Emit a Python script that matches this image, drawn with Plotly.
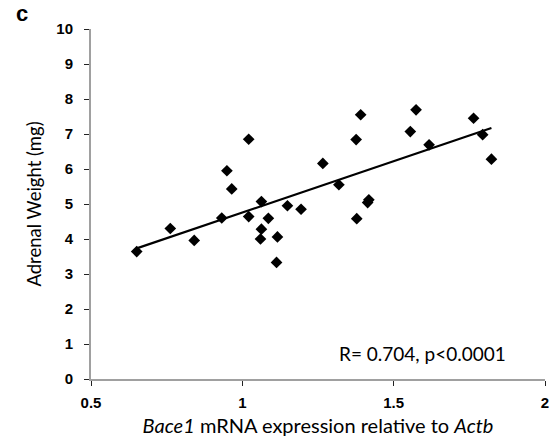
import numpy as np
import plotly.graph_objects as go

bace1 = [0.651, 0.762, 0.841, 0.932, 0.949, 0.965, 1.021, 1.021, 1.063, 1.063,
         1.060, 1.086, 1.113, 1.116, 1.149, 1.194, 1.266, 1.319, 1.376, 1.391,
         1.378, 1.414, 1.418, 1.555, 1.574, 1.617, 1.764, 1.794, 1.823]
weight = [3.64, 4.30, 3.96, 4.60, 5.95, 5.43, 6.85, 4.64, 5.07, 4.28,
          4.00, 4.59, 3.33, 4.06, 4.95, 4.85, 6.16, 5.55, 6.84, 7.55,
          4.58, 5.04, 5.12, 7.07, 7.69, 6.69, 7.45, 6.98, 6.28]

x_ticks = [0.5, 1, 1.5, 2]
x_ticklabels = ["0.5", "1", "1.5", "2"]
y_ticks = list(range(0, 11))
y_ticklabels = [str(v) for v in y_ticks]

slope, intercept = np.polyfit(bace1, weight, 1)
line_x = [min(bace1), max(bace1)]
line_y = [slope * v + intercept for v in line_x]

fig = go.Figure()
fig.add_trace(go.Scatter(x=line_x, y=line_y, mode="lines",
                         line=dict(color="black", width=2.2), hoverinfo="skip"))
fig.add_trace(go.Scatter(x=bace1, y=weight, mode="markers",
                         marker=dict(symbol="diamond", size=9, color="black")))

font_family = "Lato, 'Open Sans', sans-serif"
tick_family = "'Liberation Sans', Arial, sans-serif"
fig.update_layout(
    width=555, height=442,
    margin=dict(l=91, r=6, t=29, b=63),
    plot_bgcolor="white", paper_bgcolor="white",
    showlegend=False,
    font=dict(family=font_family, color="black"),
    xaxis=dict(range=[0.5, 2], tickvals=x_ticks,
               ticktext=["<b>%s</b>" % t for t in x_ticklabels],
               showgrid=False, zeroline=False, showline=True,
               linecolor="#a0a0a0", linewidth=2,
               ticks="outside", ticklen=5, tickcolor="#222", tickwidth=1,
               ticklabelstandoff=4,
               tickfont=dict(size=15, family=tick_family),
               title=dict(text="<i>Bace1</i> mRNA expression relative to <i>Actb</i>",
                          font=dict(size=20), standoff=9)),
    yaxis=dict(range=[0, 10], tickvals=y_ticks,
               ticktext=["<b>%s</b>" % t for t in y_ticklabels],
               showgrid=False, zeroline=False, showline=True,
               linecolor="#a0a0a0", linewidth=2,
               ticks="outside", ticklen=5, tickcolor="#222", tickwidth=1,
               ticklabelstandoff=8,
               tickfont=dict(size=15, family=tick_family),
               title=dict(text="Adrenal Weight (mg)", font=dict(size=18.5), standoff=10)),
    annotations=[
        dict(text="R= 0.704, p<0.0001", xref="paper", yref="paper",
             x=0.919, y=0.074, xanchor="right", yanchor="middle",
             showarrow=False, font=dict(size=19)),
        dict(text="<b>c</b>", xref="paper", yref="paper",
             x=-0.17, y=1.045, xanchor="left", yanchor="middle",
             showarrow=False, font=dict(size=22, family="Liberation Sans, Arial")),
    ],
)

fig.write_html("out.html")
